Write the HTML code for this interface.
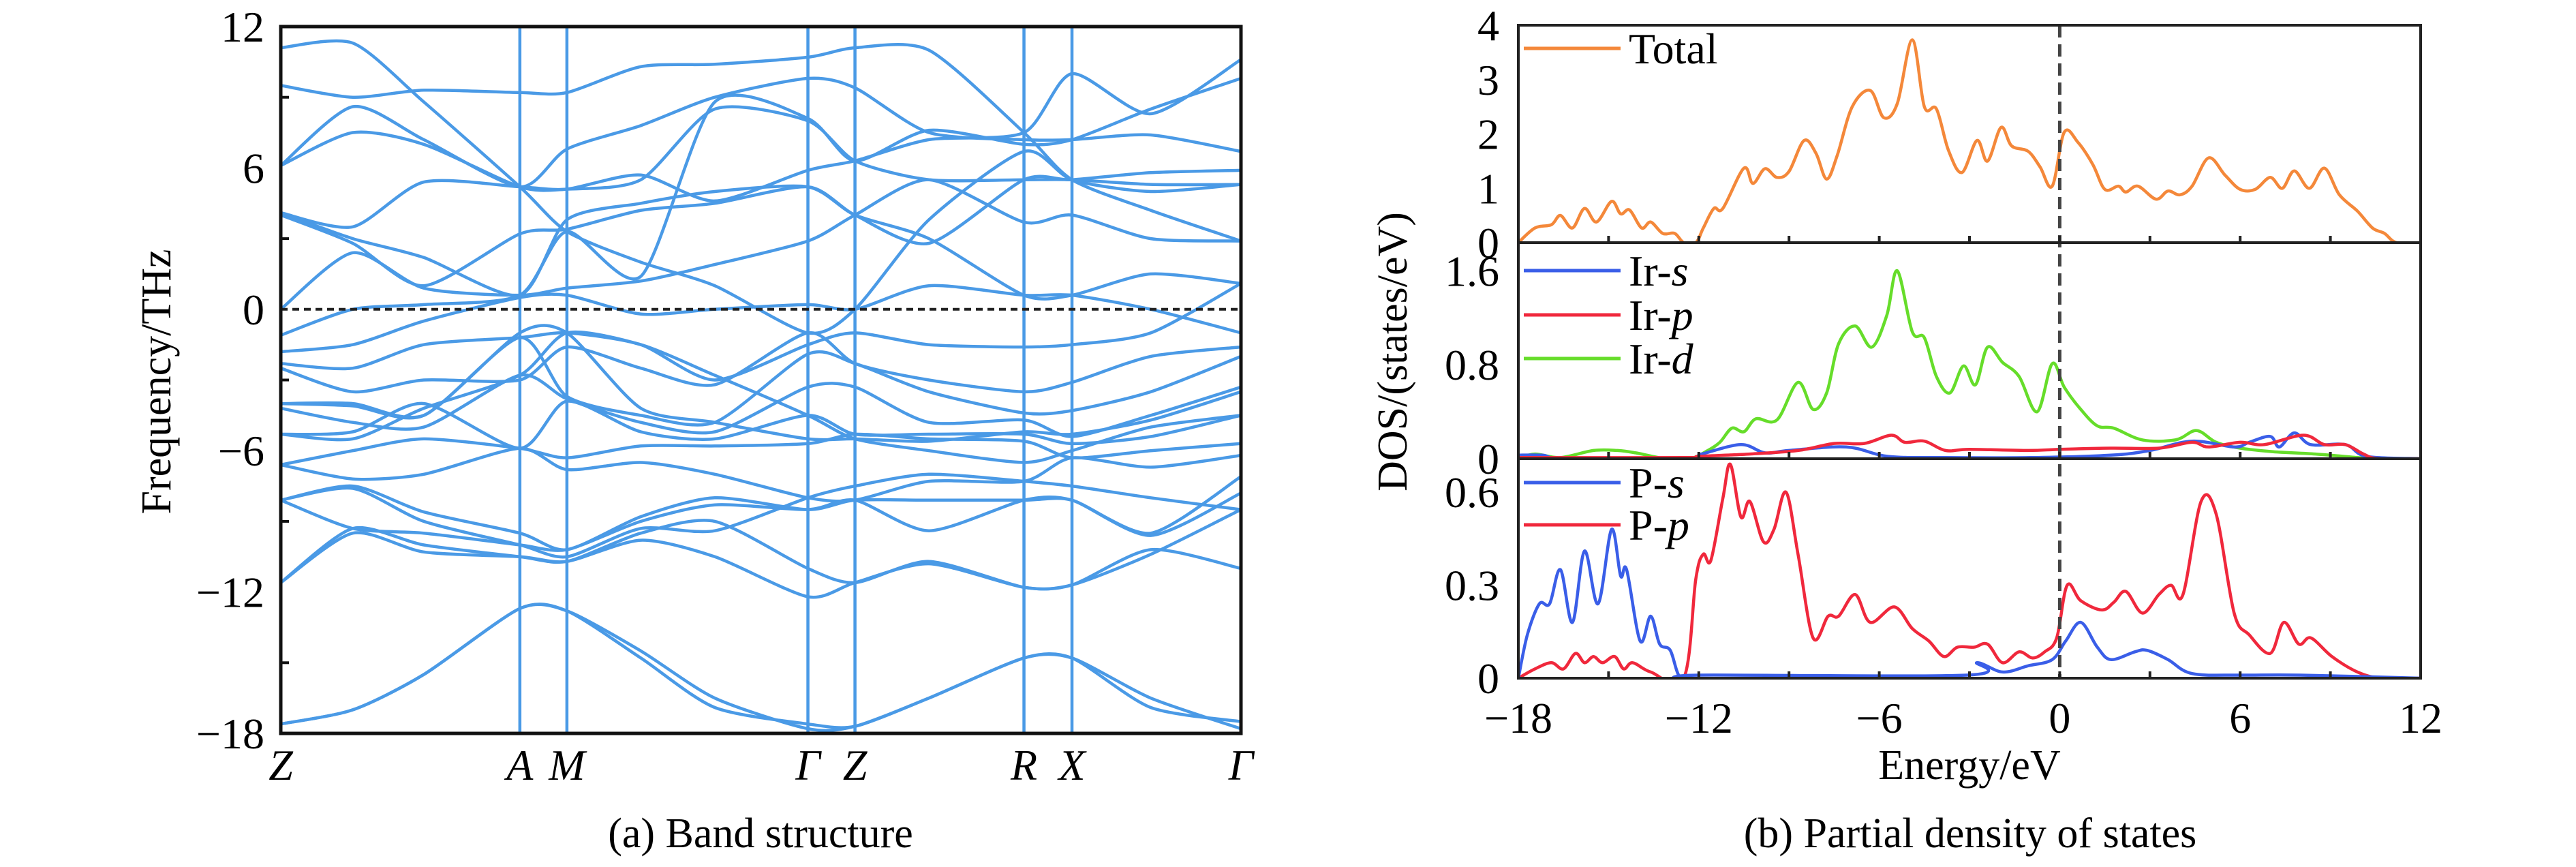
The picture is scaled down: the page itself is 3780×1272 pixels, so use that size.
<!DOCTYPE html>
<html><head><meta charset="utf-8">
<style>
html,body{margin:0;padding:0;background:#fff;}
svg{display:block;font-family:"Liberation Serif",serif;}
</style></head>
<body>
<svg id="chart" width="3780" height="1272" viewBox="0 0 3780 1272" xmlns="http://www.w3.org/2000/svg">
<defs>
<clipPath id="cp0"><rect x="2228" y="37" width="1324" height="319"/></clipPath>
<clipPath id="cp1"><rect x="2228" y="356" width="1324" height="317"/></clipPath>
<clipPath id="cp2"><rect x="2228" y="673" width="1324" height="322"/></clipPath>
<clipPath id="cpb"><rect x="412" y="39" width="1409" height="1037"/></clipPath>
</defs>
<g id="bandG"></g>
<g id="dosG"></g>
<text x="1116" y="1243" font-size="62" text-anchor="middle">(a) Band structure</text>
<text x="2891" y="1243" font-size="62" text-anchor="middle">(b) Partial density of states</text>
</svg>
<script>
// ---- Band structure data ----
const kFrac = [0, 0.075, 0.149, 0.249, 0.298, 0.375, 0.452, 0.549, 0.598, 0.675, 0.774, 0.824, 0.906, 1];
const kLabels = ["Z","A","M","Γ","Z","R","X","Γ"];
const kLabelFrac = [0, 0.249, 0.298, 0.549, 0.598, 0.774, 0.824, 1];
const freqTicks = [12, 6, 0, -6, -12, -18];
const bands = [
[11.1, 11.3, 8.8, 5.2, 3.3, 2.0, 1.0, -1.0, 0.0, 3.8, 6.7, 5.5, 5.0, 5.3],
[9.5, 9.0, 9.3, 9.2, 9.2, 10.3, 10.4, 10.7, 11.1, 11.0, 7.5, 5.5, 4.2, 2.9],
[6.1, 8.6, 7.2, 5.2, 6.8, 7.8, 9.0, 9.8, 9.4, 7.5, 7.2, 7.2, 7.4, 6.7],
[4.1, 3.5, 5.4, 5.2, 5.1, 5.7, 4.6, 5.9, 6.3, 7.2, 7.5, 10.0, 8.3, 10.6],
[4.0, 2.8, 1.0, 3.2, 3.4, 4.2, 4.5, 5.2, 4.0, 2.8, 5.5, 5.5, 5.8, 5.9],
[0.0, 2.4, 0.9, 0.6, 0.9, 1.2, 1.9, 2.9, 4.0, 5.5, 3.7, 4.0, 3.0, 2.9],
[-1.1, 0.0, 0.2, 0.6, 3.3, 1.4, 8.8, 8.1, 6.3, 7.6, 7.0, 7.2, 8.5, 9.8],
[-1.8, -1.5, -0.5, 0.5, 0.6, -0.2, 0.0, 0.2, 0.0, 1.0, 0.6, 0.6, 0.0, -1.0],
[-2.3, -2.5, -1.5, -1.2, -1.0, -1.5, -3.0, -1.5, -1.0, -1.5, -1.6, -1.5, -1.0, 1.1],
[-2.5, -3.5, -3.0, -3.0, -1.6, -2.5, -3.2, -1.0, -2.3, -3.0, -3.5, -3.1, -2.0, -1.6],
[-4.0, -4.0, -4.5, -1.2, -3.7, -4.5, -4.8, -1.9, -2.3, -3.5, -4.4, -4.3, -3.5, -2.0],
[-4.2, -4.8, -5.0, -2.8, -3.8, -4.8, -5.2, -3.3, -3.3, -4.8, -4.7, -5.4, -4.5, -3.3],
[-5.3, -5.2, -4.0, -5.9, -3.9, -5.2, -5.5, -4.5, -5.3, -5.3, -5.3, -5.7, -5.4, -4.5],
[-6.6, -6.0, -5.5, -5.9, -6.3, -5.8, -5.8, -5.7, -5.3, -5.5, -5.6, -6.3, -6.0, -5.7],
[-6.6, -7.2, -7.0, -5.9, -6.8, -6.5, -7.0, -8.0, -8.1, -7.3, -7.3, -6.3, -6.7, -6.2],
[-8.1, -7.5, -8.6, -9.5, -10.2, -8.8, -8.0, -8.5, -8.1, -8.1, -8.1, -8.1, -9.5, -7.1],
[-8.1, -9.3, -9.5, -10.0, -10.2, -9.0, -8.3, -8.5, -8.1, -9.4, -8.1, -8.1, -9.6, -7.8],
[-11.6, -9.3, -10.0, -10.5, -10.7, -9.5, -9.0, -11.0, -11.6, -10.7, -11.8, -11.7, -10.4, -8.5],
[-11.6, -9.5, -10.3, -10.5, -10.7, -9.8, -10.5, -12.2, -11.6, -10.8, -11.8, -11.7, -10.2, -11.0],
[-8.1, -7.6, -9.0, -10.0, -10.5, -9.3, -9.4, -8.0, -7.5, -7.0, -7.3, -7.5, -8.0, -8.5],
[-5.3, -5.5, -4.2, -2.8, -1.0, -1.5, -2.8, -4.5, -5.5, -6.0, -6.5, -6.0, -5.0, -4.5],
[-4.0, -4.1, -4.5, -1.0, -1.0, -4.2, -4.8, -5.5, -5.5, -5.6, -5.2, -5.3, -4.7, -3.5],
[6.1, 7.5, 7.0, 5.2, 5.1, 5.5, 8.5, 8.0, 6.3, 5.5, 5.5, 5.5, 5.3, 5.3],
[4.1, 3.0, 2.2, 0.6, 3.8, 4.5, 5.0, 5.2, 4.0, 3.0, 0.6, 0.6, 1.5, 1.1],
[-17.6, -17.0, -15.5, -12.7, -12.8, -14.5, -16.5, -17.8, -17.7, -16.5, -14.8, -14.8, -16.5, -17.8],
[-17.6, -17.0, -15.5, -12.7, -12.8, -14.8, -16.9, -17.6, -17.7, -16.5, -14.8, -14.8, -16.9, -17.5]
];

// ---- DOS data ----
const totE = [-18,-17.45,-16.9,-16.6,-16.2,-15.8,-15.4,-14.9,-14.6,-14.3,-13.9,-13.6,-13.2,-12.8,-12.5,-12.1,-11.85,-11.5,-11.2,-10.5,-10.2,-9.8,-9.4,-9.0,-8.5,-8.1,-7.75,-7.4,-6.9,-6.3,-5.85,-5.4,-4.9,-4.5,-4.1,-3.7,-3.25,-2.75,-2.4,-1.95,-1.6,-1.05,-0.65,-0.25,0.15,0.6,1.1,1.5,1.95,2.2,2.6,3.2,3.6,4.0,4.4,4.95,5.5,6.0,6.5,7.0,7.4,7.8,8.3,8.8,9.3,9.9,10.4,10.8,11.2,12];
const totV = [0,0.27,0.33,0.5,0.27,0.63,0.38,0.76,0.53,0.6,0.27,0.38,0.17,0.17,0,0,0.27,0.63,0.63,1.37,1.09,1.36,1.2,1.31,1.88,1.64,1.17,1.6,2.5,2.8,2.3,2.56,3.73,2.5,2.46,1.7,1.29,1.88,1.5,2.12,1.78,1.68,1.39,1.04,2.03,1.85,1.44,0.98,1.04,0.93,1.04,0.8,0.95,0.88,1.04,1.56,1.24,0.98,0.98,1.2,1.0,1.32,1.0,1.37,0.88,0.58,0.27,0.17,0,0];
const irdE = [-18,-17.45,-16.6,-15.5,-14.7,-14.1,-13.1,-12.3,-11.7,-11.3,-10.9,-10.5,-10.1,-9.4,-8.7,-8.2,-7.75,-7.35,-6.8,-6.25,-5.75,-5.4,-4.9,-4.5,-4.1,-3.65,-3.2,-2.8,-2.4,-1.9,-1.35,-0.75,-0.25,0.15,0.7,1.25,1.8,2.75,3.85,4.55,5.2,6.0,7.1,8.5,9.9,10.5,12];
const irdV = [0,0.04,0.01,0.07,0.07,0.05,0,0,0.07,0.14,0.26,0.23,0.34,0.33,0.65,0.42,0.56,0.98,1.13,0.95,1.22,1.6,1.08,1.03,0.7,0.56,0.79,0.63,0.95,0.82,0.7,0.4,0.81,0.61,0.42,0.28,0.26,0.16,0.16,0.24,0.14,0.09,0.06,0.04,0.01,0,0];
const irpE = [-18,-12.5,-12,-10.3,-8.7,-7.5,-6.5,-5.6,-5.15,-4.5,-3.8,-3.0,-1.05,0,1.7,3.3,4.4,4.95,6.0,6.8,8.1,8.8,9.5,10.1,10.6,12];
const irpV = [0.01,0.01,0.02,0.04,0.07,0.13,0.13,0.2,0.14,0.15,0.07,0.08,0.07,0.08,0.09,0.09,0.14,0.1,0.14,0.12,0.2,0.12,0.12,0.04,0,0];
const irsE = [-18,-17.2,-16.4,-12.5,-11.9,-10.6,-9.8,-9.0,-7.1,-5.7,-3.8,-1.0,1.7,3.0,4.4,5.8,6.3,7.0,7.3,7.8,8.35,9.5,10.2,12];
const irsV = [0.03,0.03,0,0,0.04,0.12,0.05,0.07,0.1,0.02,0.01,0.01,0.03,0.07,0.15,0.1,0.14,0.19,0.1,0.22,0.12,0.12,0.02,0];
const psE = [-18,-17.7,-17.3,-16.96,-16.6,-16.2,-15.8,-15.35,-14.9,-14.6,-14.4,-13.95,-13.6,-13.3,-12.95,-12.6,-12.0,-3.1,-2.75,-1.9,-1.05,-0.25,0.2,0.7,1.25,1.7,2.5,2.9,3.6,4.4,6,8,12];
const psV = [0,0.14,0.24,0.24,0.35,0.18,0.41,0.24,0.48,0.33,0.35,0.12,0.2,0.11,0.09,0,0.01,0.01,0.05,0.02,0.04,0.06,0.12,0.18,0.1,0.06,0.085,0.09,0.06,0.015,0.01,0.01,0];
const ppE = [-18,-17.45,-16.9,-16.5,-16.1,-15.8,-15.5,-15.2,-14.8,-14.5,-14.2,-13.6,-12.5,-12.1,-11.85,-11.6,-11.2,-10.95,-10.6,-10.3,-9.85,-9.5,-9.1,-8.7,-8.2,-7.7,-7.35,-6.8,-6.3,-5.5,-4.9,-4.35,-3.85,-3.4,-2.85,-2.4,-1.9,-1.35,-0.9,-0.5,-0.1,0.25,0.7,1.4,1.8,2.2,2.75,3.3,3.7,4.1,4.7,5.2,5.8,6.3,7.0,7.45,7.95,8.35,9.05,9.9,10.7,12];
const ppV = [0,0.03,0.05,0.03,0.08,0.05,0.07,0.05,0.07,0.03,0.05,0.02,0,0.32,0.4,0.38,0.58,0.69,0.52,0.57,0.44,0.48,0.6,0.4,0.13,0.2,0.2,0.27,0.18,0.23,0.16,0.12,0.07,0.1,0.1,0.11,0.05,0.085,0.065,0.085,0.13,0.3,0.25,0.22,0.245,0.28,0.21,0.27,0.3,0.27,0.57,0.53,0.21,0.14,0.08,0.18,0.11,0.13,0.07,0.02,0,0];
const eTicks = [-18,-12,-6,0,6,12];
const totTicks = [0,1,2,3,4];
const irTicks = [0,0.8,1.6];
const pTicks = [0,0.3,0.6];

const NS = "http://www.w3.org/2000/svg";
function mk(tag, attrs, parent){const e=document.createElementNS(NS,tag);for(const k in attrs)e.setAttribute(k,attrs[k]);parent.appendChild(e);return e;}
function smoothPath(xs, ys, t){
  t = t||6;
  let d='M'+xs[0].toFixed(1)+','+ys[0].toFixed(1);
  for(let i=0;i<xs.length-1;i++){
    const x0=xs[Math.max(0,i-1)],y0=ys[Math.max(0,i-1)],x1=xs[i],y1=ys[i],x2=xs[i+1],y2=ys[i+1],x3=xs[Math.min(xs.length-1,i+2)],y3=ys[Math.min(xs.length-1,i+2)];
    const c1x=x1+(x2-x0)/t,c1y=y1+(y2-y0)/t,c2x=x2-(x3-x1)/t,c2y=y2-(y3-y1)/t;
    d+=' C'+c1x.toFixed(1)+','+c1y.toFixed(1)+' '+c2x.toFixed(1)+','+c2y.toFixed(1)+' '+x2.toFixed(1)+','+y2.toFixed(1);
  }
  return d;
}

// ---- Band panel ----
const bG = document.getElementById('bandG');
const BX0=412, BX1=1821, BY0=39, BY1=1076;
const bx = f => BX0 + f*(BX1-BX0);
const by = v => BY0 + (12 - v)/30*(BY1-BY0);
const BLUE = "#4a9ae6";
kLabelFrac.forEach((f,i)=>{
  if(i===0||i===kLabelFrac.length-1) return;
  const l = mk('line',{x1:bx(f),x2:bx(f),y1:BY0,y2:BY1,stroke:BLUE,'stroke-width':4.5},bG);
  
  
});
const bandClip = mk('g',{'clip-path':'url(#cpb)'},bG);
bands.forEach((b,i)=>{
  const p = mk('path',{d:smoothPath(b.map((v,j)=>bx(kFrac[j])), b.map(v=>by(v)), 8),fill:'none',stroke:BLUE,'stroke-width':4.5,'stroke-linejoin':'round'},bandClip);
  
  
});
const fl = mk('line',{x1:BX0,x2:BX1,y1:by(0),y2:by(0),stroke:'#222','stroke-width':4,'stroke-dasharray':'10,7'},bG);


const bf = mk('rect',{x:BX0,y:BY0,width:BX1-BX0,height:BY1-BY0,fill:'none',stroke:'#111','stroke-width':5},bG);


for(let v=-15; v<12; v+=6){
  const t = mk('line',{x1:BX0,x2:BX0+12,y1:by(v),y2:by(v),stroke:'#111','stroke-width':4},bG);
  
  
}
freqTicks.forEach(v=>{
  const t = mk('text',{x:388,y:by(v)+22,'font-size':64,'text-anchor':'end'},bG);
  t.textContent = v<0 ? '\u2212'+(-v) : String(v);
  
  
});
kLabels.forEach((lab,i)=>{
  const t = mk('text',{x:bx(kLabelFrac[i]),y:1144,'font-size':64,'font-style':'italic','text-anchor':'middle'},bG);
  t.textContent = lab;
  
  
});
const byt = mk('text',{x:0,y:0,'font-size':62,'text-anchor':'middle',transform:'translate(250,560) rotate(-90)'},bG);
byt.textContent='Frequency/THz';



// ---- DOS panel ----
const dG = document.getElementById('dosG');
const DX0=2228, DX1=3552;
const dx = e => DX0 + (e+18)/30*(DX1-DX0);
const panels = [
  {y0:37,y1:356,max:4.0},
  {y0:356,y1:673,max:1.84},
  {y0:673,y1:995,max:0.708}
];
function sy(p,v){return p.y1 - v/p.max*(p.y1-p.y0);}
const clips = panels.map((p,i)=>mk('g',{'clip-path':'url(#cp'+i+')'},dG));
function curve(pi, E, V, color, name){
  const p = panels[pi];
  const path = mk('path',{d:smoothPath(E.map(dx),V.map(v=>sy(p,v))),fill:'none',stroke:color,'stroke-width':4.5,'stroke-linejoin':'round'},clips[pi]);
  
  
}
const ORANGE="#f4883a", BL="#3a5ee8", RED="#f0283c", GREEN="#66dd2a";
curve(0, totE, totV, ORANGE, 'total-dos-curve');
curve(1, irdE, irdV, GREEN, 'ir-d-curve');
curve(1, irsE, irsV, BL, 'ir-s-curve');
curve(1, irpE, irpV, RED, 'ir-p-curve');
curve(2, ppE, ppV, RED, 'p-p-curve');
curve(2, psE, psV, BL, 'p-s-curve');

const ef = mk('line',{x1:dx(0),x2:dx(0),y1:37,y2:995,stroke:'#444','stroke-width':5,'stroke-dasharray':'18,10'},dG);



panels.forEach((p,pi)=>{
  const r = mk('rect',{x:DX0,y:p.y0,width:DX1-DX0,height:p.y1-p.y0,fill:'none',stroke:'#222','stroke-width':4},dG);
  
  
  for(let e=-15;e<12;e+=3){
    const t = mk('line',{x1:dx(e),x2:dx(e),y1:p.y1,y2:p.y1-10,stroke:'#222','stroke-width':4},dG);
    
    
  }
});
function yLabels(p, ticks, name){
  ticks.forEach(v=>{
    const t = mk('text',{x:2200,y:sy(p,v)+22,'font-size':64,'text-anchor':'end'},dG);
    t.textContent = String(v);
    
    
  });
}
yLabels(panels[0], totTicks, 'total-y-tick-label');
yLabels(panels[1], irTicks, 'ir-y-tick-label');
yLabels(panels[2], pTicks, 'p-y-tick-label');
eTicks.forEach(e=>{
  const t = mk('text',{x:dx(e),y:1075,'font-size':64,'text-anchor':'middle'},dG);
  t.textContent = e<0 ? '\u2212'+(-e) : String(e);
  
  
});
const xt = mk('text',{x:dx(-3),y:1143,'font-size':62,'text-anchor':'middle'},dG);
xt.textContent='Energy/eV';


const yt = mk('text',{x:0,y:0,'font-size':62,'text-anchor':'middle',transform:'translate(2064,516) rotate(-90)'},dG);
yt.textContent='DOS/(states/eV)';



const legends = [
  {y:71,c:ORANGE,t:'Total',it:''},
  {y:397,c:BL,t:'Ir-',it:'s'},
  {y:462,c:RED,t:'Ir-',it:'p'},
  {y:526,c:GREEN,t:'Ir-',it:'d'},
  {y:708,c:BL,t:'P-',it:'s'},
  {y:770,c:RED,t:'P-',it:'p'}
];
legends.forEach(L=>{
  const g = mk('g',{},dG);
  
  
  mk('line',{x1:2236,x2:2378,y1:L.y,y2:L.y,stroke:L.c,'stroke-width':5},g);
  const t = mk('text',{x:2390,y:L.y+22,'font-size':64},g);
  t.textContent = L.t;
  if(L.it){const s=mk('tspan',{'font-style':'italic'},t);s.textContent=L.it;}
});
</script>
</body></html>
